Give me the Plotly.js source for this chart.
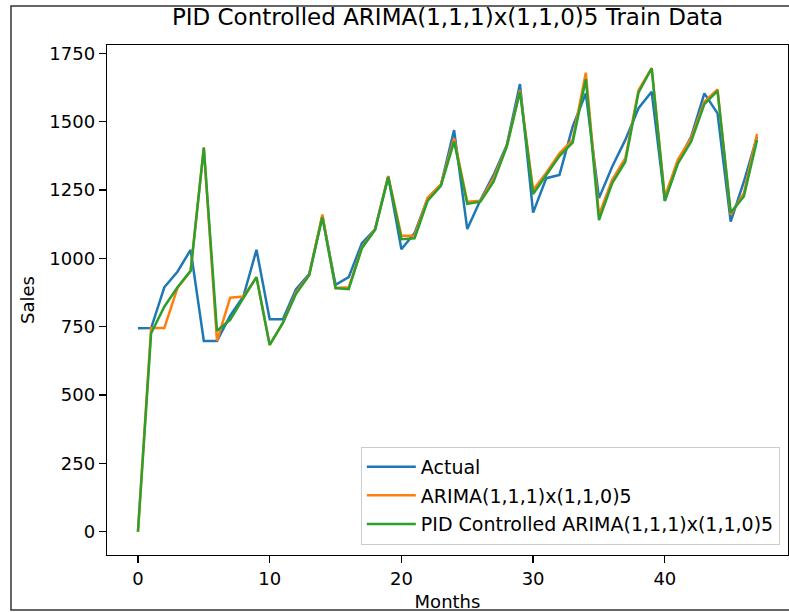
<!DOCTYPE html>
<html>
<head>
<meta charset="utf-8">
<script src="https://cdn.plot.ly/plotly-3.0.1.min.js"></script>
<style>
  html, body { margin: 0; padding: 0; background: #fff; }
  #chart { width: 789px; height: 612px; }
</style>
</head>
<body>
<div id="chart"></div>
<script>
const months = Array.from({length: 48}, (_, i) => i);

const actual = [744, 745, 894, 951, 1031, 698, 698, 790, 860, 1031,
  777, 777, 887, 942, 1155, 903, 931, 1055, 1106, 1299,
  1033, 1092, 1220, 1268, 1469, 1107, 1213, 1305, 1414, 1637,
  1167, 1293, 1305, 1481, 1603, 1220, 1335, 1433, 1549, 1609,
  1210, 1353, 1445, 1603, 1530, 1134, 1280, 1445];

const arima = [0, 745, 745, 891, 954, 1405, 698, 856, 860, 931,
  683, 764, 875, 940, 1160, 891, 894, 1040, 1106, 1301,
  1082, 1082, 1222, 1270, 1439, 1207, 1210, 1293, 1410, 1615,
  1250, 1313, 1384, 1433, 1679, 1159, 1287, 1366, 1615, 1695,
  1225, 1362, 1439, 1573, 1618, 1160, 1238, 1455];

const pid = [0, 726, 823, 894, 954, 1405, 735, 775, 854, 931,
  683, 764, 870, 938, 1150, 891, 887, 1037, 1104, 1297,
  1070, 1073, 1211, 1265, 1427, 1199, 1207, 1280, 1408, 1609,
  1235, 1305, 1374, 1423, 1655, 1140, 1274, 1353, 1606, 1695,
  1210, 1347, 1427, 1564, 1612, 1167, 1226, 1433];

const seriesNames = ["Actual", "ARIMA(1,1,1)x(1,1,0)5", "PID Controlled ARIMA(1,1,1)x(1,1,0)5"];
const xTicks = [0, 10, 20, 30, 40];
const yTicks = [0, 250, 500, 750, 1000, 1250, 1500, 1750];

const FONT = "DejaVu Sans, sans-serif";
const colors = ["#1f77b4", "#ff7f0e", "#2ca02c"];
const seriesData = [actual, arima, pid];

const traces = seriesData.map((ys, i) => ({
  x: months,
  y: ys,
  type: "scatter",
  mode: "lines",
  name: seriesNames[i],
  legendgroup: "g" + i,
  line: {color: colors[i], width: 2.5}
}));

const axisCommon = {
  showgrid: false,
  zeroline: false,
  showline: true,
  mirror: true,
  linecolor: "#000",
  linewidth: 1.3,
  ticks: "outside",
  ticklen: 7,
  tickwidth: 1.3,
  tickcolor: "#000",
  tickfont: {family: FONT, size: 18, color: "#000"}
};

const layout = {
  width: 789,
  height: 612,
  margin: {l: 107, r: 1, t: 45, b: 57},
  paper_bgcolor: "#fff",
  plot_bgcolor: "#fff",
  title: {
    text: "PID Controlled ARIMA(1,1,1)x(1,1,0)5 Train Data",
    font: {family: FONT, size: 23, color: "#000"},
    x: 0.5, xref: "paper", xanchor: "center",
    y: 1 - 17 / 612, yref: "container", yanchor: "middle"
  },
  xaxis: Object.assign({}, axisCommon, {
    range: [-2.35, 49.35],
    tickvals: xTicks,
    ticktext: xTicks.map(String),
    title: {text: "Months", font: {family: FONT, size: 18, color: "#000"}, standoff: 7}
  }),
  yaxis: Object.assign({}, axisCommon, {
    range: [-85, 1780],
    tickvals: yTicks,
    ticktext: yTicks.map(String),
    title: {text: "Sales", font: {family: FONT, size: 18, color: "#000"}, standoff: 10}
  }),
  legend: {
    x: 0.988, xanchor: "right",
    y: 0.02, yanchor: "bottom",
    bgcolor: "rgba(255,255,255,0.8)",
    bordercolor: "#cccccc",
    borderwidth: 1,
    itemwidth: 49,
    traceorder: "grouped",
    tracegroupgap: 1,
    font: {family: FONT, size: 19, color: "#000"}
  },
  shapes: [{
    type: "rect", xref: "paper", yref: "paper",
    x0: -0.141, x1: 1.02, y0: -0.1078, y1: 1.0765,
    line: {color: "#333", width: 1.5},
    fillcolor: "rgba(0,0,0,0)",
    layer: "below"
  }],
  showlegend: true
};

Plotly.newPlot("chart", traces, layout, {displayModeBar: false, staticPlot: true});
</script>
</body>
</html>
